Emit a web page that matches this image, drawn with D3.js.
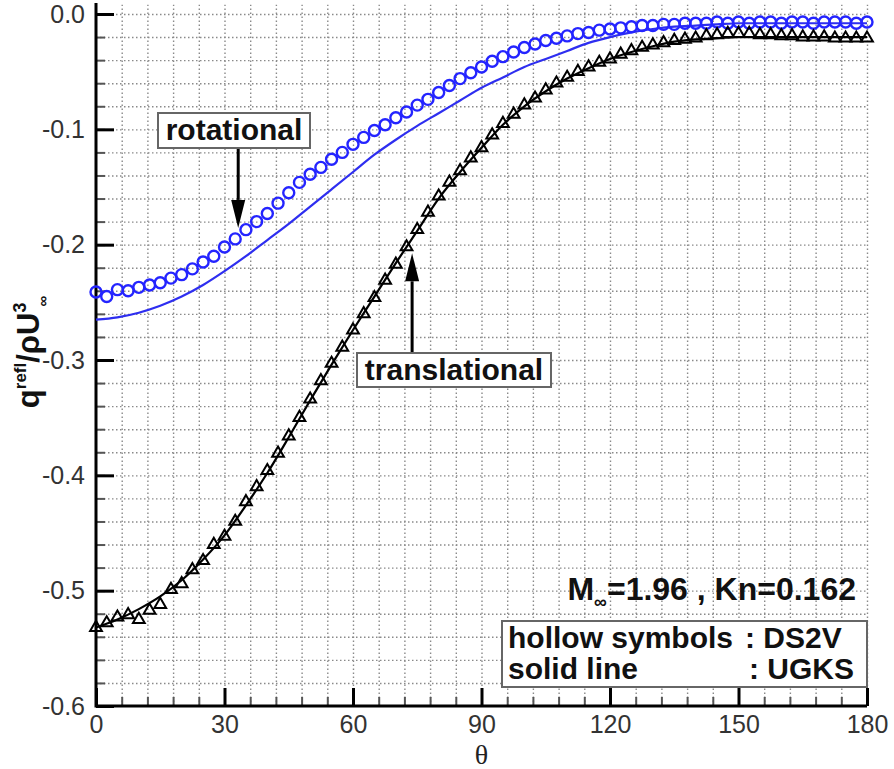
<!DOCTYPE html>
<meta charset="utf-8">
<style>

body {
  margin: 0;
  background: #fff;
}

svg {
  font-family: "Liberation Sans", Arial, sans-serif;
}

.axis path {
  display: none;
}

.axis .tick text {
  font-size: 25px;
  fill: #333;
}

.major line {
  stroke: #000;
  stroke-width: 3;
}

.minor line {
  stroke: #555;
  stroke-width: 2;
}

.grid path {
  display: none;
}

.grid line {
  stroke: #8a8a8a;
  stroke-width: 1.4;
  stroke-dasharray: 1.5,2.5;
}

.label {
  font-weight: bold;
  font-size: 30px;
  fill: #111;
}

.box {
  fill: #fff;
  stroke: #666;
  stroke-width: 2;
}

</style>
<body>
<script src="https://cdn.jsdelivr.net/npm/d3@7"></script>
<script>

var xTicks = [0, 30, 60, 90, 120, 150, 180];
var yTicks = [0, -0.1, -0.2, -0.3, -0.4, -0.5, -0.6];
var yTickLabels = ["0.0", "-0.1", "-0.2", "-0.3", "-0.4", "-0.5", "-0.6"];

// DS2V samples (hollow symbols)
var thetaDS2V = [0, 2.5, 5, 7.5, 10, 12.5, 15, 17.5, 20, 22.5, 25, 27.5, 30, 32.5, 35, 37.5,
  40, 42.5, 45, 47.5, 50, 52.5, 55, 57.5, 60, 62.5, 65, 67.5, 70, 72.5, 75, 77.5,
  80, 82.5, 85, 87.5, 90, 92.5, 95, 97.5, 100, 102.5, 105, 107.5, 110, 112.5, 115, 117.5,
  120, 122.5, 125, 127.5, 130, 132.5, 135, 137.5, 140, 142.5, 145, 147.5, 150, 152.5, 155, 157.5,
  160, 162.5, 165, 167.5, 170, 172.5, 175, 177.5, 180];

var rotDS2V = [-0.241, -0.245, -0.239, -0.240, -0.237, -0.235, -0.233, -0.229, -0.226, -0.221, -0.215, -0.210, -0.202, -0.195, -0.187, -0.180,
  -0.173, -0.164, -0.155, -0.146, -0.139, -0.133, -0.126, -0.120, -0.113, -0.107, -0.101, -0.096, -0.090, -0.085, -0.079, -0.074,
  -0.068, -0.062, -0.056, -0.051, -0.046, -0.041, -0.037, -0.033, -0.029, -0.026, -0.023, -0.021, -0.019, -0.017, -0.016, -0.014,
  -0.013, -0.012, -0.011, -0.010, -0.010, -0.009, -0.009, -0.008, -0.008, -0.008, -0.007, -0.008, -0.007, -0.008, -0.007, -0.007,
  -0.008, -0.007, -0.007, -0.008, -0.007, -0.007, -0.007, -0.008, -0.007];

var transDS2V = [-0.532, -0.528, -0.523, -0.521, -0.525, -0.517, -0.512, -0.499, -0.494, -0.482, -0.474, -0.460, -0.453, -0.440, -0.423, -0.410,
  -0.396, -0.381, -0.366, -0.350, -0.334, -0.318, -0.303, -0.289, -0.274, -0.260, -0.246, -0.231, -0.217, -0.202, -0.187, -0.172,
  -0.158, -0.146, -0.136, -0.125, -0.116, -0.105, -0.095, -0.087, -0.079, -0.073, -0.066, -0.060, -0.055, -0.050, -0.046, -0.042,
  -0.039, -0.035, -0.032, -0.029, -0.027, -0.025, -0.023, -0.022, -0.021, -0.019, -0.018, -0.017, -0.017, -0.017, -0.018, -0.018,
  -0.019, -0.019, -0.020, -0.020, -0.020, -0.021, -0.021, -0.021, -0.021];

// UGKS solution (solid lines)
var thetaUGKS = [0, 5, 10, 15, 20, 25, 30, 35, 40, 45, 50, 55, 60, 65, 70, 75, 80, 85, 90,
  95, 100, 105, 110, 115, 120, 125, 130, 135, 140, 145, 150, 155, 160, 165, 170, 175, 180];

var rotUGKS = [-0.265, -0.263, -0.259, -0.253, -0.245, -0.235, -0.223, -0.210, -0.196, -0.182, -0.167, -0.152, -0.137, -0.122, -0.109, -0.097, -0.086, -0.075, -0.064,
  -0.055, -0.046, -0.039, -0.032, -0.025, -0.020, -0.016, -0.013, -0.011, -0.010, -0.009, -0.008, -0.008, -0.008, -0.008, -0.008, -0.008, -0.008];

var transUGKS = [-0.532, -0.525, -0.516, -0.505, -0.491, -0.473, -0.452, -0.426, -0.398, -0.367, -0.335, -0.304, -0.274, -0.245, -0.216, -0.188, -0.160, -0.137, -0.116,
  -0.096, -0.080, -0.067, -0.056, -0.047, -0.039, -0.033, -0.028, -0.024, -0.022, -0.021, -0.020, -0.020, -0.020, -0.020, -0.020, -0.020, -0.020];

var W = 894, H = 769;

var x = d3.scaleLinear().domain([0, 180]).range([96, 867]);
var y = d3.scaleLinear().domain([-0.6, 0]).range([706, 14]);
var yTop = 0.008;

var svg = d3.select("body").append("svg")
    .attr("width", W)
    .attr("height", H);

// dotted grid
svg.append("g")
    .attr("class", "grid")
    .attr("transform", "translate(0," + y(-0.6) + ")")
    .call(d3.axisBottom(x).tickValues(d3.range(6, 181, 6)).tickSize(-(y(-0.6) - y(yTop))).tickFormat(""));

svg.append("g")
    .attr("class", "grid")
    .attr("transform", "translate(" + x(0) + ",0)")
    .call(d3.axisLeft(y).tickValues(d3.range(-0.58, 0.001, 0.02)).tickSize(-(x(180) - x(0))).tickFormat(""));

// minor ticks
svg.append("g")
    .attr("class", "axis minor")
    .attr("transform", "translate(0," + y(-0.6) + ")")
    .call(d3.axisBottom(x).tickValues(d3.range(6, 181, 6)).tickSize(-9).tickFormat(""));

svg.append("g")
    .attr("class", "axis minor")
    .attr("transform", "translate(" + x(0) + ",0)")
    .call(d3.axisLeft(y).tickValues(d3.range(-0.58, 0.001, 0.02)).tickSize(-9).tickFormat(""));

// major ticks + labels
svg.append("g")
    .attr("class", "axis major")
    .attr("transform", "translate(0," + y(-0.6) + ")")
    .call(d3.axisBottom(x).tickValues(xTicks).tickSizeInner(-18).tickSizeOuter(0).tickPadding(9));

svg.append("g")
    .attr("class", "axis major")
    .attr("transform", "translate(" + x(0) + ",0)")
    .call(d3.axisLeft(y).tickValues(yTicks).tickSizeInner(-18).tickSizeOuter(0).tickPadding(11)
      .tickFormat(function(d, i) { return yTickLabels[i]; }));

// axis lines
svg.append("line")
    .attr("x1", x(0)).attr("x2", x(180))
    .attr("y1", y(-0.6)).attr("y2", y(-0.6))
    .attr("stroke", "#000").attr("stroke-width", 3);

svg.append("line")
    .attr("x1", x(0)).attr("x2", x(0))
    .attr("y1", y(-0.6) + 1.5).attr("y2", y(0.0095))
    .attr("stroke", "#000").attr("stroke-width", 3);

svg.append("line")
    .attr("x1", x(180)).attr("x2", x(180))
    .attr("y1", y(-0.6)).attr("y2", y(-0.6) - 15)
    .attr("stroke", "#000").attr("stroke-width", 2);

// curves
var line = d3.line()
    .x(function(d) { return x(d[0]); })
    .y(function(d) { return y(d[1]); })
    .curve(d3.curveMonotoneX);

svg.append("path")
    .datum(d3.zip(thetaUGKS, rotUGKS))
    .attr("fill", "none")
    .attr("stroke", "#2e2ef0")
    .attr("stroke-width", 2.2)
    .attr("d", line);

svg.append("path")
    .datum(d3.zip(thetaUGKS, transUGKS))
    .attr("fill", "none")
    .attr("stroke", "#000")
    .attr("stroke-width", 2.2)
    .attr("d", line);

svg.append("g").selectAll("circle")
    .data(d3.zip(thetaDS2V, rotDS2V))
  .enter().append("circle")
    .attr("cx", function(d) { return x(d[0]); })
    .attr("cy", function(d) { return y(d[1]); })
    .attr("r", 5.5)
    .attr("fill", "none")
    .attr("stroke", "#2424ff")
    .attr("stroke-width", 2.4);

var tri = d3.symbol().type(d3.symbolTriangle).size(60);

svg.append("g").selectAll("path")
    .data(d3.zip(thetaDS2V, transDS2V))
  .enter().append("path")
    .attr("transform", function(d) { return "translate(" + x(d[0]) + "," + y(d[1]) + ")"; })
    .attr("d", tri)
    .attr("fill", "none")
    .attr("stroke", "#000")
    .attr("stroke-width", 2);

// annotations
function arrow(x0, y0, y1) {
  var dir = y1 > y0 ? 1 : -1;
  var headLen = 28, headW = 7;
  svg.append("line")
      .attr("x1", x0).attr("x2", x0)
      .attr("y1", y0).attr("y2", y1 - dir * headLen)
      .attr("stroke", "#000").attr("stroke-width", 3);
  svg.append("path")
      .attr("d", "M" + x0 + "," + y1 + "L" + (x0 - headW) + "," + (y1 - dir * headLen) +
           "L" + (x0 + headW) + "," + (y1 - dir * headLen) + "Z")
      .attr("fill", "#000");
}

function labelBox(text, cx, baseline, x0, x1, y0, y1) {
  svg.append("rect").attr("class", "box")
      .attr("x", x0).attr("y", y0).attr("width", x1 - x0).attr("height", y1 - y0);
  svg.append("text").attr("class", "label")
      .attr("x", cx).attr("y", baseline)
      .attr("text-anchor", "middle")
      .text(text);
}

arrow(x(33.2), 148, y(-0.1855));
labelBox("rotational", 234, 140, 158, 310, 113, 148);

arrow(x(73.8), 353, y(-0.2075));
labelBox("translational", 454, 380, 357, 551, 353, 387);

// condition text
var cond = svg.append("text").attr("class", "label")
    .attr("x", 856).attr("y", 600)
    .attr("text-anchor", "end")
    .style("font-size", "32px");
cond.append("tspan").text("M");
cond.append("tspan").text("\u221e").style("font-size", "18px").attr("dy", 8);
cond.append("tspan").text("=1.96 , Kn=0.162").attr("dy", -8);

// legend box
svg.append("rect").attr("class", "box")
    .attr("x", 502).attr("y", 621).attr("width", 365).attr("height", 66);

svg.append("text").attr("class", "label").attr("x", 508).attr("y", 648).text("hollow symbols");
svg.append("text").attr("class", "label").attr("x", 745).attr("y", 648).text(": DS2V");
svg.append("text").attr("class", "label").attr("x", 508).attr("y", 679).text("solid line");
svg.append("text").attr("class", "label").attr("x", 749).attr("y", 679).text(": UGKS");

// axis titles
svg.append("text")
    .attr("x", x(90)).attr("y", 764)
    .attr("text-anchor", "middle")
    .style("font-family", "'Liberation Serif', 'DejaVu Serif', serif")
    .style("font-size", "28px")
    .attr("fill", "#222")
    .text("\u03b8");

var yl = svg.append("text").attr("class", "label")
    .attr("transform", "translate(39,352) rotate(-90)")
    .attr("text-anchor", "middle")
    .style("font-size", "31px");
yl.append("tspan").text("q");
yl.append("tspan").text("refl").style("font-size", "17px").attr("dy", -13);
yl.append("tspan").text("/\u03c1U").attr("dy", 13);
yl.append("tspan").text("3").style("font-size", "18px").attr("dy", -13);
yl.append("tspan").text("\u221e").style("font-size", "15px").attr("dx", -4).attr("dy", 22);

</script>
